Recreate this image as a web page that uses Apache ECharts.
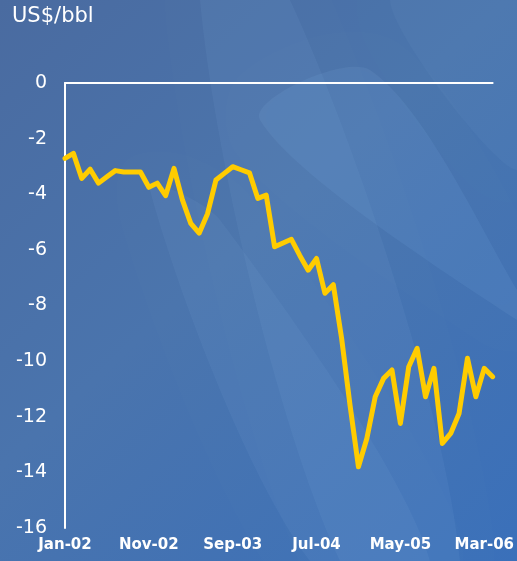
<!DOCTYPE html>
<html>
<head>
<meta charset="utf-8">
<style>
  html, body { margin: 0; padding: 0; }
  #chart { width: 517px; height: 561px; }
</style>
<script src="https://cdn.jsdelivr.net/npm/echarts@6/dist/echarts.min.js"></script>
</head>
<body>
<div id="chart"></div>
<script>
// Monthly spread, Jan-02 to Apr-06
const months = [
  'Jan-02','Feb-02','Mar-02','Apr-02','May-02','Jun-02','Jul-02','Aug-02','Sep-02','Oct-02','Nov-02','Dec-02',
  'Jan-03','Feb-03','Mar-03','Apr-03','May-03','Jun-03','Jul-03','Aug-03','Sep-03','Oct-03','Nov-03','Dec-03',
  'Jan-04','Feb-04','Mar-04','Apr-04','May-04','Jun-04','Jul-04','Aug-04','Sep-04','Oct-04','Nov-04','Dec-04',
  'Jan-05','Feb-05','Mar-05','Apr-05','May-05','Jun-05','Jul-05','Aug-05','Sep-05','Oct-05','Nov-05','Dec-05',
  'Jan-06','Feb-06','Mar-06','Apr-06'
];
const spread = [
  -2.71, -2.53, -3.43, -3.10, -3.60, -3.37, -3.15, -3.20, -3.20, -3.20, -3.75, -3.60,
  -4.05, -3.07, -4.20, -5.05, -5.40, -4.70, -3.49, -3.25, -3.01, -3.12, -3.23, -4.15,
  -4.03, -5.89, -5.75, -5.62, -6.20, -6.73, -6.31, -7.56, -7.25, -9.20, -11.60, -13.80,
  -12.78, -11.28, -10.62, -10.32, -12.24, -10.20, -9.54, -11.28, -10.26, -12.96, -12.60, -11.88,
  -9.90, -11.28, -10.26, -10.56
];
const yMin = -16, yMax = 0, yStep = 2;
const labelEvery = 10;
const unitLabel = 'US$/bbl';

const chart = echarts.init(document.getElementById('chart'), null, { renderer: 'canvas' });

const W = 517, H = 561;
// translucent band used for the soft diagonal highlights behind the plot
const band = (pts, a) => ({
  type: 'polygon', silent: true, z: -9,
  shape: { points: pts, smooth: 0.3 },
  style: {
    fill: 'rgba(160,200,240,' + a + ')',
    shadowBlur: 30,
    shadowColor: 'rgba(160,200,240,' + a + ')'
  }
});

chart.setOption({
  backgroundColor: 'transparent',
  animation: false,
  graphic: [
    {
      type: 'rect', silent: true, z: -10,
      shape: { x: 0, y: 0, width: W, height: H },
      style: {
        fill: new echarts.graphic.LinearGradient(0, 0, 1, 1, [
          { offset: 0, color: '#4a6ba0' },
          { offset: 0.45, color: '#4a74ad' },
          { offset: 1, color: '#3a70ba' }
        ])
      }
    },
    band([[200, 0], [290, 0], [460, 561], [340, 561]], 0.07),
    band([[150, 190], [220, 220], [430, 561], [310, 561]], 0.07),
    band([[260, 120], [370, 70], [517, 290], [517, 320]], 0.09),
    band([[390, 0], [517, 0], [517, 170]], 0.05),
    {
      type: 'text', left: 12, top: 6, silent: true,
      style: { text: unitLabel, fill: '#ffffff', font: '21px "DejaVu Sans"' }
    }
  ],
  grid: { left: 65, right: 19, top: 83, bottom: 33, containLabel: false },
  xAxis: {
    type: 'category',
    data: months,
    boundaryGap: false,
    axisLine: { show: true, lineStyle: { color: '#ffffff', width: 2 } },
    axisTick: { show: false },
    axisLabel: {
      interval: (i) => i % labelEvery === 0,
      color: '#ffffff',
      fontFamily: 'DejaVu Sans',
      fontWeight: 'bold',
      fontSize: 15,
      margin: 10,
      hideOverlap: false
    },
    splitLine: { show: false }
  },
  yAxis: {
    type: 'value',
    min: yMin, max: yMax, interval: yStep,
    axisLine: { show: true, lineStyle: { color: '#ffffff', width: 2 } },
    axisTick: { show: false },
    axisLabel: {
      color: '#ffffff',
      fontFamily: 'DejaVu Sans',
      fontSize: 19,
      margin: 18
    },
    splitLine: { show: false }
  },
  series: [{
    type: 'line',
    data: spread,
    symbol: 'none',
    lineStyle: { color: '#ffcc00', width: 5, join: 'round', cap: 'round' },
    z: 5
  }]
});
</script>
</body>
</html>
